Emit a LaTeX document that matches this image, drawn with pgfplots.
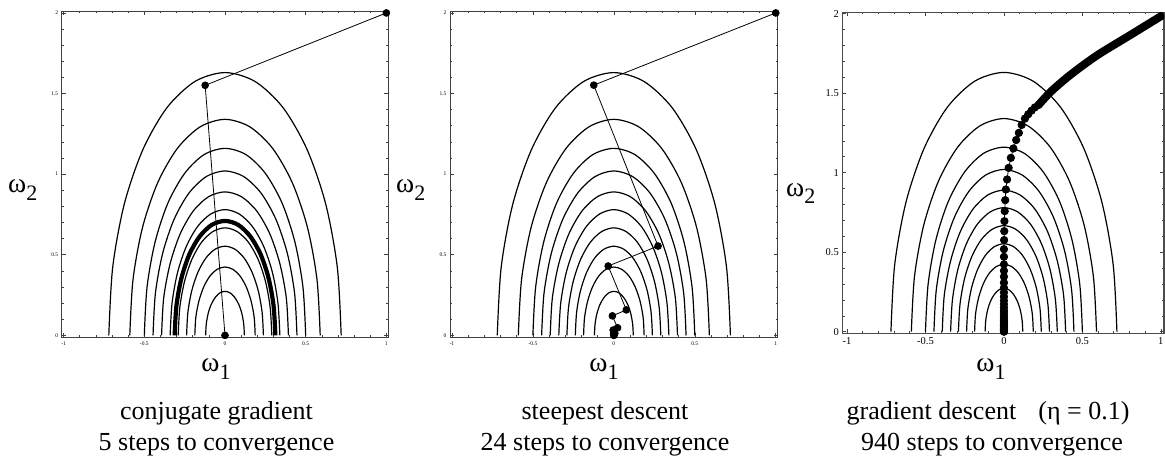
\documentclass[border=0pt]{standalone}
\usepackage{fontspec}
\setmainfont{Liberation Serif}
\usepackage{pgfplots}
\pgfplotsset{compat=1.18}

\pgfplotsset{
 panel/.style={scale only axis, anchor=south west,
  xmin=-1.012,xmax=1.012,ymin=-0.012,ymax=2.012,
  xtick={-1,-0.5,0,0.5,1}, ytick={0,0.5,1,1.5,2},
  minor x tick num=4, minor y tick num=4,
  tick align=inside, tick pos=both, ticklabel pos=left,
  major tick length=4pt, minor tick length=2.2pt,
  axis line style={black!75, line width=0.9pt},
  tick style={black!75, line width=0.6pt},
  /pgf/number format/assume math mode=true,
  ticklabel style={font=\fontsize{5.5}{6}\selectfont},
  xticklabel style={yshift=-1pt},
  },
 contour/.style={black, line width=1.2pt, smooth, no markers},
 traj/.style={black, line width=0.8pt, mark=*, mark size=3.4pt, mark options={fill=black,draw=black}},
}

\newcommand\contours{%
\addplot[contour] coordinates {(0.72,0) (0.696,0.422) (0.624,0.815) (0.509,1.152) (0.36,1.412) (0.186,1.575) (0,1.63) (-0.186,1.575) (-0.36,1.412) (-0.509,1.152) (-0.624,0.815) (-0.696,0.422) (-0.72,0)};
\addplot[contour] coordinates {(0.59,0) (0.570,0.347) (0.511,0.67) (0.417,0.947) (0.295,1.160) (0.153,1.294) (0,1.34) (-0.153,1.294) (-0.295,1.160) (-0.417,0.947) (-0.511,0.67) (-0.570,0.347) (-0.59,0)};
\addplot[contour] coordinates {(0.5,0) (0.483,0.300) (0.433,0.58) (0.354,0.820) (0.25,1.005) (0.130,1.121) (0,1.16) (-0.130,1.121) (-0.25,1.005) (-0.354,0.820) (-0.433,0.58) (-0.483,0.300) (-0.5,0)};
\addplot[contour] coordinates {(0.446,0) (0.431,0.264) (0.386,0.51) (0.315,0.721) (0.223,0.883) (0.116,0.985) (0,1.02) (-0.116,0.985) (-0.223,0.883) (-0.315,0.721) (-0.386,0.51) (-0.431,0.264) (-0.446,0)};
\addplot[contour] coordinates {(0.393,0) (0.380,0.231) (0.340,0.445) (0.278,0.629) (0.197,0.771) (0.102,0.860) (0,0.89) (-0.102,0.860) (-0.197,0.771) (-0.278,0.629) (-0.340,0.445) (-0.380,0.231) (-0.393,0)};
\addplot[contour] coordinates {(0.34,0) (0.328,0.202) (0.294,0.39) (0.240,0.551) (0.17,0.675) (0.088,0.753) (0,0.78) (-0.088,0.753) (-0.17,0.675) (-0.240,0.551) (-0.294,0.39) (-0.328,0.202) (-0.34,0)};
\addplot[contour] coordinates {(0.29,0) (0.280,0.173) (0.251,0.334) (0.205,0.472) (0.145,0.578) (0.075,0.644) (0,0.667) (-0.075,0.644) (-0.145,0.578) (-0.205,0.472) (-0.251,0.334) (-0.280,0.173) (-0.29,0)};
\addplot[contour] coordinates {(0.238,0) (0.230,0.143) (0.206,0.277) (0.168,0.391) (0.119,0.479) (0.062,0.534) (0,0.553) (-0.062,0.534) (-0.119,0.479) (-0.168,0.391) (-0.206,0.277) (-0.230,0.143) (-0.238,0)};
\addplot[contour] coordinates {(0.187,0) (0.181,0.110) (0.162,0.212) (0.132,0.300) (0.094,0.367) (0.048,0.410) (0,0.424) (-0.048,0.410) (-0.094,0.367) (-0.132,0.300) (-0.162,0.212) (-0.181,0.110) (-0.187,0)};
\addplot[contour] coordinates {(0.12,0) (0.116,0.071) (0.104,0.137) (0.085,0.193) (0.06,0.236) (0.031,0.264) (0,0.273) (-0.031,0.264) (-0.06,0.236) (-0.085,0.193) (-0.104,0.137) (-0.116,0.071) (-0.12,0)};
}

\newcommand\wlab[1]{{\fontsize{27.5}{27.5}\selectfont ω\raisebox{-7.5pt}{\fontsize{22}{22}\selectfont #1}}}
\newcommand\captext[1]{{\fontsize{26}{26}\selectfont #1}}

\begin{document}
\begin{tikzpicture}[x=1pt,y=1pt]
\path[use as bounding box] (0,0) rectangle (1165,458);

% panel 1: conjugate gradient
\begin{axis}[panel, at={(61.7pt,120.7pt)}, width=326.6pt, height=326.3pt, clip=false]
\contours
\addplot[black, line width=4.2pt, smooth, no markers] coordinates {(0.312,0) (0.301,0.184) (0.270,0.355) (0.221,0.502) (0.156,0.615) (0.081,0.686) (0,0.71) (-0.081,0.686) (-0.156,0.615) (-0.221,0.502) (-0.270,0.355) (-0.301,0.184) (-0.312,0)};
\addplot[traj] coordinates {(1,2) (-0.123,1.551) (0,0)};
\end{axis}

% panel 2: steepest descent
\begin{axis}[panel, at={(450pt,120.7pt)}, width=327.7pt, height=326.3pt, clip=false]
\contours
\addplot[traj] coordinates {(1,2) (-0.124,1.552) (0.273,0.554) (-0.035,0.430) (0.077,0.158) (-0.009,0.121) (0.023,0.047) (-0.004,0.033) (0.006,0.012) (-0.001,0.009) (0.001,0.003) (0,0.002) (0,0)};
\end{axis}

% panel 3: gradient descent
\begin{axis}[panel, at={(842.3pt,124.7pt)}, width=321.7pt, height=321pt,
  xmin=-1.03, xmax=1.02, ymin=-0.01, ymax=2.008,
  axis line style={black!70, line width=1.2pt},
  ticklabel style={font=\fontsize{10.5}{11}\selectfont}]
\contours
\addplot[black, line width=8pt, smooth, no markers] coordinates {(1.02,1.995) (0.8,1.862) (0.59,1.735) (0.42,1.612) (0.30,1.51) (0.22,1.425)};
\addplot[traj, mark size=3.7pt] coordinates {(0.22,1.425) (0.197,1.41) (0.176,1.39) (0.155,1.367) (0.134,1.34) (0.113,1.30) (0.095,1.25) (0.078,1.205) (0.06,1.152) (0.044,1.093) (0.03,1.03) (0.02,0.957) (0.012,0.894) (0.008,0.827) (0.005,0.758) (0.003,0.695) (0.002,0.632) (0.001,0.576) (0,0.519) (0,0.471) (0,0.423) (0,0.383) (0,0.346) (0,0.308) (0,0.276) (0,0.247) (0,0.22) (0,0.195) (0,0.172) (0,0.151) (0,0.132) (0,0.115) (0,0.098) (0,0.084) (0,0.071) (0,0.059) (0,0.048) (0,0.040) (0,0.031) (0,0.023) (0,0.017) (0,0.010) (0,0.004) (0,0)};
\end{axis}

% axis labels
\node[anchor=base west, inner sep=0] at (8,265) {\wlab{2}};
\node[anchor=base west, inner sep=0] at (396,265) {\wlab{2}};
\node[anchor=base west, inner sep=0] at (786,261.5) {\wlab{2}};
\node[anchor=base, inner sep=0] at (216,86) {\wlab{1}};
\node[anchor=base, inner sep=0] at (604,86) {\wlab{1}};
\node[anchor=base, inner sep=0] at (991,86) {\wlab{1}};

% captions
\node[anchor=base, inner sep=0] at (216.5,38) {\captext{conjugate gradient}};
\node[anchor=base, inner sep=0] at (216.5,7) {\captext{5 steps to convergence}};
\node[anchor=base, inner sep=0] at (605,38) {\captext{steepest descent}};
\node[anchor=base, inner sep=0] at (605,7) {\captext{24 steps to convergence}};
\node[anchor=base, inner sep=0] at (988,38) {\captext{gradient descent\hspace{0.85em}(η = 0.1)}};
\node[anchor=base, inner sep=0] at (992,7) {\captext{940 steps to convergence}};
\end{tikzpicture}
\end{document}
